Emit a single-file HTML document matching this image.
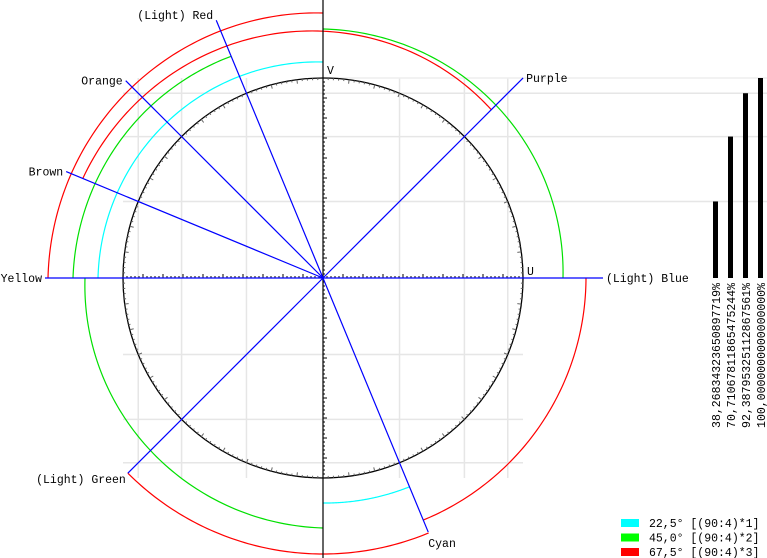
<!DOCTYPE html>
<html><head><meta charset="utf-8"><style>
html,body{margin:0;padding:0;background:#fff;width:767px;height:558px;overflow:hidden}
svg text{font-family:"Liberation Mono",monospace;font-size:11.5px;fill:#000}
</style></head><body>
<svg id="chart" width="767" height="558" viewBox="0 0 767 558" xmlns="http://www.w3.org/2000/svg"></svg>
<script>
// ---- data ----
const spokeNames = ["(Light) Blue","Purple","(Light) Red","Orange","Brown","Yellow","(Light) Green","Cyan"];
const spokeAngles = [0,45,112.5,135,157.5,180,225,292.5];
const spokeLengths = [280,283,279,279,278,278,276,275];
const barValues = [38.2683432365089772, 70.7106781186547524, 92.3879532511286756, 100];
const barLabels = ["38,2683432365089771 9%".replace(" ",""),"70,7106781186547524 4%".replace(" ",""),"92,3879532511286756 1%".replace(" ",""),"100,0000000000000000%"];
const legendLabels = ["22,5° [(90:4)*1]","45,0° [(90:4)*2]","67,5° [(90:4)*3]"];
const legendColors = ["#00ffff","#00ff00","#ff0000"];
// arcs: [startAngle, startRadius, endAngle, endRadius]
const arcCyan1 = [90,216,180,225];
const arcCyan2 = [270,225,292.5,226];
const arcGreen1 = [0,240,90,249];
const arcGreen2 = [112.5,240,180,250];
const arcGreen3 = [180,238,270,250];
const arcRed1 = [90,265,180,275];
const arcRed2 = [45,238,157.5,260];
const arcRed3 = [225,276,292.5,276];
const arcRed4 = [292.5,262,360,263];

// ---- geometry ----
const svg = document.getElementById('chart');
const NS = "http://www.w3.org/2000/svg";
const CX = 323, CY = 278, R = 200;
function px(a, r){ return CX + r*Math.cos(a*Math.PI/180); }
function py(a, r){ return CY - r*Math.sin(a*Math.PI/180); }
function mk(tag, attrs){ const e=document.createElementNS(NS,tag); for(const k in attrs) e.setAttribute(k,attrs[k]); svg.appendChild(e); return e; }

// grid
const gridOff = barValues.slice(0,3).map(v=>v/100*R);
gridOff.forEach((o,i)=>{
  [-1,1].forEach(s=>{
    const v = mk('line',{x1:CX+s*o,y1:CY-R,x2:CX+s*o,y2:CY+R,stroke:'#e6e6e6','stroke-width':1.5});
    
    
    const h = mk('line',{x1:CX-R,y1:CY+s*o,x2:(s<0?767:CX+R),y2:CY+s*o,stroke:'#e6e6e6','stroke-width':1.5});
    
    
  });
});
const topGrid = mk('line',{x1:CX,y1:CY-R,x2:767,y2:CY-R,stroke:'#eeeeee','stroke-width':1.5});



// arcs
function drawArc(arc, color, name){
  const [a0,r0,a1,r1]=arc;
  let d='';
  const n=90;
  for(let j=0;j<=n;j++){
    const t=j/n, a=a0+(a1-a0)*t, r=r0+(r1-r0)*t;
    d+=(d?'L':'M')+px(a,r).toFixed(2)+' '+py(a,r).toFixed(2);
  }
  const p=mk('path',{d:d,fill:'none',stroke:color,'stroke-width':1.2});
  
  
}
drawArc(arcCyan1,'#00ffff','arc-cyan-1');
drawArc(arcCyan2,'#00ffff','arc-cyan-2');
drawArc(arcGreen1,'#00e000','arc-green-1');
drawArc(arcGreen2,'#00e000','arc-green-2');
drawArc(arcGreen3,'#00e000','arc-green-3');
drawArc(arcRed1,'#ff0000','arc-red-1');
drawArc(arcRed2,'#ff0000','arc-red-2');
drawArc(arcRed3,'#ff0000','arc-red-3');
drawArc(arcRed4,'#ff0000','arc-red-4');

// circle and ticks
const circ = mk('circle',{cx:CX,cy:CY,r:R,fill:'none',stroke:'#000','stroke-width':1.3});


let td='';
for(let a=0;a<360;a+=1.5){
  const l=(Math.round(a*2)%15===0)?4:2;
  td+='M'+px(a,R).toFixed(2)+' '+py(a,R).toFixed(2)+'L'+px(a,R-l).toFixed(2)+' '+py(a,R-l).toFixed(2);
}
const ticks = mk('path',{d:td,stroke:'#666','stroke-width':1,fill:'none'});



// vertical axis
const vax = mk('line',{x1:CX,y1:0,x2:CX,y2:558,stroke:'#000','stroke-width':1.2});


let ad='';
for(let k=-50;k<=50;k++){
  const o=k*4, l=(k%5===0)?4:2;
  ad+='M'+(CX+o)+' '+CY+'L'+(CX+o)+' '+(CY-l);
  ad+='M'+CX+' '+(CY+o)+'L'+(CX+l)+' '+(CY+o);
}
const aticks = mk('path',{d:ad,stroke:'#000','stroke-width':1,fill:'none'});



// spokes
spokeNames.forEach((n,i)=>{
  const a=spokeAngles[i], L=spokeLengths[i];
  const x=px(a,L), y=py(a,L);
  const ln = mk('line',{x1:CX,y1:CY,x2:x,y2:y,stroke:'#0000ff','stroke-width':1.2});
  
  
  const right = Math.cos(a*Math.PI/180) > 0.01 || a===292.5;
  const t = mk('text',{x:right?x+3:x-3,y:y+4,'text-anchor':right?'start':'end'});
  if(a===292.5){ t.setAttribute('y',y+15); t.setAttribute('x',x); }
  if(a===112.5){ t.setAttribute('y',y-1); }
  if(a===225){ t.setAttribute('y',y+10); t.setAttribute('x',x-2); }
  t.textContent=n;
  
  
});
const uL = mk('text',{x:527,y:275}); uL.textContent='U';


const vL = mk('text',{x:327,y:74}); vL.textContent='V';



// bars
barValues.forEach((v,i)=>{
  const x=713+i*15, h=v/100*R;
  const b = mk('rect',{x:x,y:CY-h,width:5,height:h,fill:'#000'});
  
  
  const t = mk('text',{x:0,y:0,'text-anchor':'end',transform:'translate('+(x+7)+','+(CY+5)+') rotate(-90)'});
  t.textContent=barLabels[i];
  
  
});

// legend
legendLabels.forEach((l,i)=>{
  const y=519+i*14.5;
  const s = mk('rect',{x:621,y:y,width:18,height:8,fill:legendColors[i]});
  
  
  const t = mk('text',{x:649,y:y+8}); t.textContent=l;
  
  
});
</script>
</body></html>
